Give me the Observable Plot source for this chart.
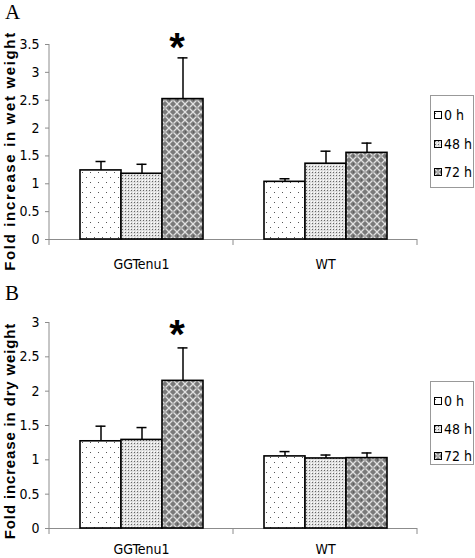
<!DOCTYPE html>
<html><head><meta charset="utf-8">
<script src="https://cdn.jsdelivr.net/npm/d3@7"></script>
<script src="https://cdn.jsdelivr.net/npm/@observablehq/plot@0.6"></script>
<style>
body{margin:0;background:#fff;}
#wrap{position:relative;width:475px;height:558px;overflow:hidden;background:#fff;}
.panel{position:absolute;left:0;width:475px;}
.letter{position:absolute;font-family:"Liberation Serif","Times New Roman",serif;font-size:21px;line-height:normal;}
.ytitle{position:absolute;font-family:"Liberation Sans",Arial,sans-serif;font-weight:bold;font-size:15px;line-height:15px;white-space:nowrap;transform:translate(-50%,-50%) rotate(-90deg);}
.legend{position:absolute;border:1px solid #999;box-sizing:border-box;font-family:"DejaVu Sans Condensed","Liberation Sans Narrow","Liberation Sans",sans-serif;font-stretch:condensed;font-size:14px;background:#fff;}
.legend .item{position:absolute;left:3px;height:16px;display:flex;align-items:center;white-space:nowrap;}
.legend .item svg{margin-right:2px;}
svg g[aria-label="y-axis tick"] path, svg g[aria-label="y-axis"] line{stroke:#8c8c8c;}
</style>
</head><body>
<svg width="0" height="0" style="position:absolute">
  <defs>
    <pattern id="pat0" width="8" height="10" patternUnits="userSpaceOnUse">
      <rect width="8" height="10" fill="#fff"/>
      <rect x="1" y="2" width="1" height="1" fill="#555"/>
      <rect x="5" y="7" width="1" height="1" fill="#555"/>
    </pattern>
    <pattern id="pat1" width="3" height="3" patternUnits="userSpaceOnUse">
      <rect width="3" height="3" fill="#e0e0e0"/>
      <rect x="1" y="1" width="1" height="1" fill="#666"/>
      <rect x="0" y="0" width="1" height="1" fill="#fff"/>
    </pattern>
    <pattern id="pat2" width="8" height="8" patternUnits="userSpaceOnUse">
      <rect width="8" height="8" fill="#7a7a7a"/>
      <path d="M0,0L8,8M8,0L0,8" stroke="#e0e0e0" stroke-width="1.3"/>
      <rect x="3.5" y="3.5" width="1" height="1" fill="#333"/>
      <rect x="0" y="3.5" width="1" height="1" fill="#444"/>
    </pattern>
  </defs>
</svg>
<div id="wrap"></div>
<script>
// ---- data ----
const groups = ["GGTenu1", "WT"];
const times = ["0 h", "48 h", "72 h"];
const patterns = ["url(#pat0)", "url(#pat1)", "url(#pat2)"];

// Panel A: fold increase in wet weight
const wetGGTenu1 = [1.24, 1.18, 2.52];
const wetGGTenu1Err = [0.16, 0.17, 0.74];
const wetWT = [1.035, 1.36, 1.555];
const wetWTErr = [0.055, 0.225, 0.175];
const wetTicks = [0, 0.5, 1, 1.5, 2, 2.5, 3, 3.5];

// Panel B: fold increase in dry weight
const dryGGTenu1 = [1.27, 1.29, 2.15];
const dryGGTenu1Err = [0.22, 0.18, 0.48];
const dryWT = [1.05, 1.02, 1.025];
const dryWTErr = [0.07, 0.05, 0.075];
const dryTicks = [0, 0.5, 1, 1.5, 2, 2.5, 3];

// significance marks (group, time)
const significant = [["GGTenu1", "72 h"]];

function buildRows(means, errs) {
  const rows = [];
  groups.forEach((g, gi) => {
    times.forEach((t, ti) => {
      rows.push({
        group: g, time: t,
        value: means[gi][ti],
        top: means[gi][ti] + errs[gi][ti],
        fill: patterns[ti],
        sig: significant.some(([sg, st]) => sg === g && st === t)
      });
    });
  });
  return rows;
}

const FONT = '"DejaVu Sans Condensed","Liberation Sans Narrow","Liberation Sans",sans-serif';

function makePanel(rows, cfg) {
  const plot = Plot.plot({
    width: 475,
    height: cfg.height,
    marginLeft: 48,
    marginRight: 58,
    marginTop: cfg.marginTop,
    marginBottom: cfg.marginBottom,
    facet: {data: rows, x: "group"},
    fx: {domain: groups, padding: 0, axis: "bottom", label: null, tickSize: 0, tickPadding: cfg.catPad},
    x: {domain: times, axis: null, paddingInner: 0, paddingOuter: 0.73},
    y: {domain: cfg.domain, ticks: cfg.ticks, tickSize: 4, tickPadding: 6, label: null, tickFormat: d => String(d)},
    color: {type: "identity"},
    style: {fontFamily: FONT, fontStretch: "condensed", fontSize: "14px", color: "black", background: "transparent", overflow: "visible"},
    marks: [
      Plot.ruleY([0], {stroke: "#8c8c8c", strokeWidth: 1}),
      Plot.barY(rows, {x: "time", y: "value", fill: "fill", stroke: "black", strokeWidth: 1.6}),
      Plot.ruleX(rows, {x: "time", y1: "value", y2: "top", stroke: "black", strokeWidth: 1.5}),
      Plot.tickY(rows, {x: "time", y: "top", stroke: "black", strokeWidth: 1.5, insetLeft: 15.5, insetRight: 15.5}),
      Plot.text(rows, {filter: d => d.sig, x: "time", y: "top", text: () => "*", dy: cfg.starDy, dx: -6,
        fontSize: 40, fontWeight: "bold", fontFamily: "Liberation Sans, Arial, sans-serif", fill: "black"})
    ]
  });
  // axis line on the left and category separators, from the plot's own scales
  const fx = plot.scale("fx"), y = plot.scale("y");
  const y0 = y.apply(0), yTop = y.apply(cfg.domain[1]);
  const edges = fx.domain.map(g => fx.apply(g));
  edges.push(fx.apply(fx.domain[fx.domain.length - 1]) + fx.bandwidth);
  const g = d3.select(plot).insert("g", ":first-child").attr("stroke", "#8c8c8c").attr("stroke-width", 1);
  g.append("line").attr("x1", edges[0]).attr("x2", edges[0]).attr("y1", yTop).attr("y2", y0 + 6);
  edges.slice(1).forEach(x => g.append("line").attr("x1", x).attr("x2", x).attr("y1", y0).attr("y2", y0 + 6));
  return plot;
}

function addLegend(parent, box) {
  const lg = document.createElement("div");
  lg.className = "legend";
  Object.assign(lg.style, {left: box.left + "px", top: box.top + "px", width: box.width + "px", height: box.height + "px"});
  times.forEach((t, i) => {
    const it = document.createElement("div");
    it.className = "item";
    it.style.top = (box.first + i * box.step - 8) + "px";
    it.innerHTML = `<svg width="8" height="8"><rect x="0.5" y="0.5" width="7" height="7" fill="${patterns[i]}" stroke="black" stroke-width="1"/></svg><span>${t}</span>`;
    lg.appendChild(it);
  });
  parent.appendChild(lg);
}

function addText(parent, cls, text, style) {
  const d = document.createElement("div");
  d.className = cls;
  d.textContent = text;
  Object.assign(d.style, style);
  parent.appendChild(d);
}

const wrap = document.getElementById("wrap");

// Panel A
const pA = document.createElement("div");
pA.className = "panel"; pA.style.top = "0px"; pA.style.height = "280px";
pA.appendChild(makePanel(buildRows([wetGGTenu1, wetWT], [wetGGTenu1Err, wetWTErr]),
  {height: 280, marginTop: 44, marginBottom: 41, domain: [0, 3.5], ticks: wetTicks, catPad: 20, starDy: -10}));
wrap.appendChild(pA);
addLegend(wrap, {left: 430, top: 95, width: 44, height: 93, first: 19, step: 28.5});
addText(wrap, "letter", "A", {left: "5px", top: "0px"});
addText(wrap, "ytitle", "Fold increase in wet weight", {left: "9px", top: "151px", letterSpacing: "1.65px"});

// Panel B
const pB = document.createElement("div");
pB.className = "panel"; pB.style.top = "280px"; pB.style.height = "278px";
pB.appendChild(makePanel(buildRows([dryGGTenu1, dryWT], [dryGGTenu1Err, dryWTErr]),
  {height: 278, marginTop: 42, marginBottom: 30, domain: [0, 3], ticks: dryTicks, catPad: 16, starDy: -13}));
wrap.appendChild(pB);
addLegend(wrap, {left: 430, top: 381, width: 44, height: 84, first: 19, step: 27.5});
addText(wrap, "letter", "B", {left: "5px", top: "281px"});
addText(wrap, "ytitle", "Fold increase in dry weight", {left: "9px", top: "431px", letterSpacing: "0.85px"});
</script>
</body></html>
